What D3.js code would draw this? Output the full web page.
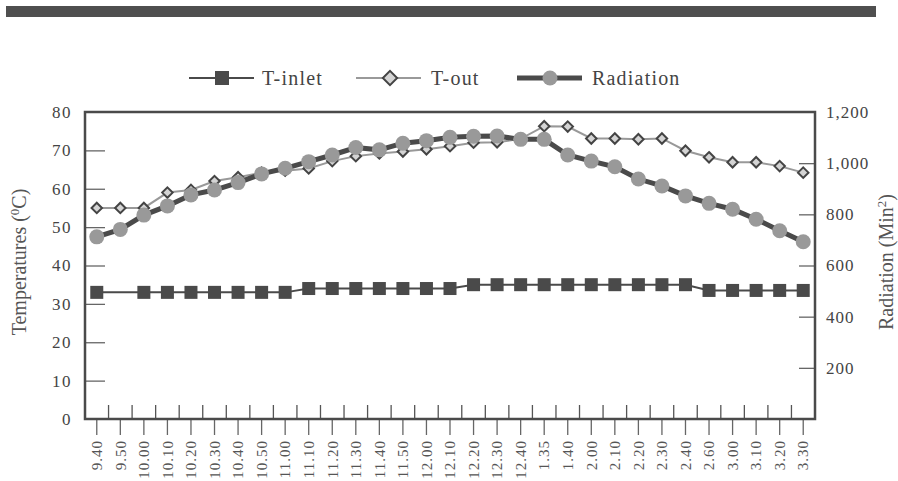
<!DOCTYPE html>
<html>
<head>
<meta charset="utf-8">
<script src="https://cdn.jsdelivr.net/npm/d3@7"></script>
<style>
  body { margin: 0; background: #fff; }
  svg text { font-family: "Liberation Serif", "DejaVu Serif", serif; fill: #444; }
</style>
</head>
<body>
<svg id="chart" width="898" height="481"></svg>
<script>
// time of day labels
let times = ["9.40","9.50","10.00","10.10","10.20","10.30","10.40","10.50","11.00","11.10",
             "11.20","11.30","11.40","11.50","12.00","12.10","12.20","12.30","12.40","1.35",
             "1.40","2.00","2.10","2.20","2.30","2.40","2.60","3.00","3.10","3.20","3.30"];

// T-inlet (°C), no marker at 9.50
let tInlet = [33, null, 33, 33, 33, 33, 33, 33, 33, 34,
              34, 34, 34, 34, 34, 34, 35, 35, 35, 35,
              35, 35, 35, 35, 35, 35, 33.5, 33.5, 33.5, 33.5, 33.5];

// T-out (°C)
let tOut = [55, 55, 55, 59, 59.7, 62, 63, 64.2, 64.7, 65.3,
            67.2, 68.5, 69.2, 69.7, 70.3, 71.1, 72, 72.1, 73, 76.3,
            76.2, 73.1, 73.1, 72.9, 73.1, 69.9, 68.2, 66.9, 66.9, 65.9, 64.2];

// Radiation
let radiation = [712, 741, 797, 833, 876, 895, 924, 958, 980, 1006,
                 1032, 1061, 1052, 1078, 1088, 1101, 1105, 1106, 1093, 1093,
                 1032, 1008, 986, 938, 911, 872, 843, 820, 781, 736, 693];

let leftTicks = [0, 10, 20, 30, 40, 50, 60, 70, 80];
let rightTicks = [200, 400, 600, 800, 1000, 1200];

let serif = "'Liberation Serif', 'DejaVu Serif', serif";
let svg = d3.select("#chart");
let dark = "#4a4a4a";

// top banner bar
svg.append("rect")
    .attr("x", 6).attr("y", 6)
    .attr("width", 870).attr("height", 11)
    .style("fill", "#4f4f4f");

let plotLeft = 85, plotRight = 815, plotTop = 112, plotBottom = 419;

let x = d3.scaleBand()
    .domain(d3.range(times.length))
    .range([plotLeft, plotRight]);
let cx = function(i) { return x(i) + x.bandwidth() / 2; };

let yL = d3.scaleLinear().domain([0, 80]).range([plotBottom, plotTop]);
let yR = d3.scaleLinear().domain([0, 1200]).range([plotBottom, plotTop]);

// left axis
let leftAxis = d3.axisLeft(yL)
    .tickValues(leftTicks)
    .tickSize(-20)
    .tickPadding(13);
let gL = svg.append("g")
    .attr("transform", "translate(" + plotLeft + ",0)")
    .call(leftAxis);
gL.select(".domain").remove();
gL.selectAll("line").style("stroke", "#666").style("stroke-width", 1.3)
    .filter(function(d) { return d == 0 || d == 80; }).remove();
gL.selectAll("text").style("font-family", serif).style("font-size", "17px")
    .style("letter-spacing", "1.5px").style("fill", "#444");

// right axis
let rightAxis = d3.axisRight(yR)
    .tickValues(rightTicks)
    .tickSize(-16)
    .tickPadding(11)
    .tickFormat(d3.format(","));
let gR = svg.append("g")
    .attr("transform", "translate(" + plotRight + ",0)")
    .call(rightAxis);
gR.select(".domain").remove();
gR.selectAll("line").style("stroke", "#666").style("stroke-width", 1.3)
    .filter(function(d) { return d == 1200; }).remove();
gR.selectAll("text").style("font-family", serif).style("font-size", "17px")
    .style("letter-spacing", "1px").style("fill", "#444");

// bottom axis: outer ticks at categories
let bottomAxis = d3.axisBottom(x)
    .tickSize(16)
    .tickPadding(6)
    .tickFormat(function(i) { return times[i]; });
let gB = svg.append("g")
    .attr("transform", "translate(0," + plotBottom + ")")
    .call(bottomAxis);
gB.select(".domain").remove();
gB.selectAll("line").style("stroke", "#666").style("stroke-width", 1.3);
gB.selectAll("text")
    .attr("y", 0).attr("dy", "0.35em")
    .attr("x", -21)
    .attr("transform", "rotate(-90)")
    .style("text-anchor", "end")
    .style("font-family", serif)
    .style("font-size", "15px")
    .style("letter-spacing", "1px")
    .style("fill", "#555");

// inner ticks between categories
svg.append("g").selectAll("line")
    .data(d3.range(1, times.length))
    .join("line")
    .attr("x1", function(i) { return x(i); })
    .attr("x2", function(i) { return x(i); })
    .attr("y1", plotBottom - 14)
    .attr("y2", plotBottom)
    .style("stroke", "#555")
    .style("stroke-width", 1.3);

// plot frame
svg.append("rect")
    .attr("x", plotLeft).attr("y", plotTop)
    .attr("width", plotRight - plotLeft).attr("height", plotBottom - plotTop)
    .style("fill", "none")
    .style("stroke", dark)
    .style("stroke-width", 2.5);

// axis titles
svg.append("text")
    .attr("transform", "translate(26,262) rotate(-90)")
    .style("text-anchor", "middle")
    .style("font-family", serif)
    .style("font-size", "20px")
    .style("fill", "#555")
    .html("Temperatures (<tspan baseline-shift='super' font-size='13px'>0</tspan>C)");

svg.append("text")
    .attr("transform", "translate(893,262) rotate(-90)")
    .style("text-anchor", "middle")
    .style("font-family", serif)
    .style("font-size", "20px")
    .style("fill", "#555")
    .html("Radiation (Min<tspan baseline-shift='super' font-size='13px'>2</tspan>)");

// T-inlet
let inletPts = tInlet.map(function(v, i) { return [i, v]; }).filter(function(d) { return d[1] != null; });
svg.append("path")
    .datum(inletPts)
    .attr("d", d3.line().x(function(d) { return cx(d[0]); }).y(function(d) { return yL(d[1]); }))
    .style("fill", "none").style("stroke", dark).style("stroke-width", 2);
svg.append("g").selectAll("rect")
    .data(inletPts)
    .join("rect")
    .attr("x", function(d) { return cx(d[0]) - 6.5; })
    .attr("y", function(d) { return yL(d[1]) - 6.5; })
    .attr("width", 13).attr("height", 13)
    .style("fill", dark);

// T-out
let diamond = d3.symbol().type(d3.symbolDiamond2).size(70);
svg.append("path")
    .datum(tOut)
    .attr("d", d3.line().x(function(d, i) { return cx(i); }).y(function(d) { return yL(d); }))
    .style("fill", "none").style("stroke", "#999").style("stroke-width", 2);
svg.append("g").selectAll("path")
    .data(tOut)
    .join("path")
    .attr("d", diamond)
    .attr("transform", function(d, i) { return "translate(" + cx(i) + "," + yL(d) + ")"; })
    .style("fill", "#d4d4d4").style("stroke", "#444").style("stroke-width", 2);

// Radiation
svg.append("path")
    .datum(radiation)
    .attr("d", d3.line().x(function(d, i) { return cx(i); }).y(function(d) { return yR(d); }))
    .style("fill", "none").style("stroke", dark).style("stroke-width", 5);
svg.append("g").selectAll("circle")
    .data(radiation)
    .join("circle")
    .attr("cx", function(d, i) { return cx(i); })
    .attr("cy", function(d) { return yR(d); })
    .attr("r", 7.5)
    .style("fill", "#999");

// legend
let legendY = 78;
let lg = svg.append("g");
// T-inlet
lg.append("line").attr("x1", 189).attr("x2", 254).attr("y1", legendY).attr("y2", legendY)
    .style("stroke", dark).style("stroke-width", 2);
lg.append("rect").attr("x", 222 - 7).attr("y", legendY - 7).attr("width", 14).attr("height", 14)
    .style("fill", dark);
lg.append("text").attr("x", 262).attr("y", legendY).attr("dy", "0.35em")
    .style("font-family", serif).style("font-size", "20px").style("letter-spacing", "1.2px")
    .style("fill", "#444").text("T-inlet");
// T-out
lg.append("line").attr("x1", 356).attr("x2", 421).attr("y1", legendY).attr("y2", legendY)
    .style("stroke", "#999").style("stroke-width", 2);
lg.append("path").attr("d", d3.symbol().type(d3.symbolDiamond2).size(130))
    .attr("transform", "translate(390," + legendY + ")")
    .style("fill", "#d4d4d4").style("stroke", "#444").style("stroke-width", 2);
lg.append("text").attr("x", 431).attr("y", legendY).attr("dy", "0.35em")
    .style("font-family", serif).style("font-size", "20px").style("letter-spacing", "1.2px")
    .style("fill", "#444").text("T-out");
// Radiation
lg.append("line").attr("x1", 517).attr("x2", 582).attr("y1", legendY).attr("y2", legendY)
    .style("stroke", dark).style("stroke-width", 5);
lg.append("circle").attr("cx", 550).attr("cy", legendY).attr("r", 7.5)
    .style("fill", "#999");
lg.append("text").attr("x", 592).attr("y", legendY).attr("dy", "0.35em")
    .style("font-family", serif).style("font-size", "20px").style("letter-spacing", "1.2px")
    .style("fill", "#444").text("Radiation");
</script>
</body>
</html>
